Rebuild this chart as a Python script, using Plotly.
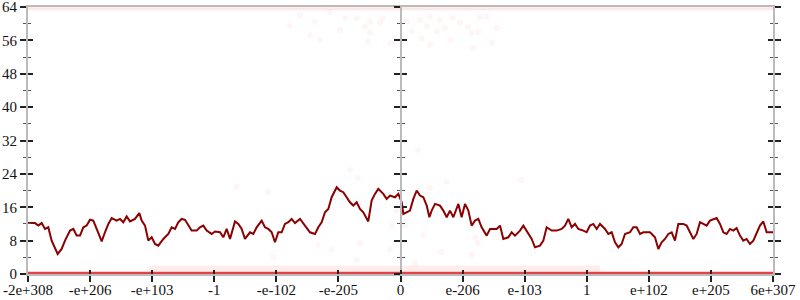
import plotly.graph_objects as go

# ---- data ----
tick_pos = [0, 100, 200, 300, 400, 500, 600, 700, 800, 900, 1000, 1100, 1200]
tick_labels = ["-2e+308", "-e+206", "-e+103", "-1", "-e-102", "-e-205", "0",
               "e-206", "e-103", "1", "e+102", "e+205", "6e+307"]
y_ticks = [0, 8, 16, 24, 32, 40, 48, 56, 64]
y_minor = [4, 12, 20, 28, 36, 44, 52, 60]

line_x = [0, 11.3, 16.6, 22, 27.4, 32.7, 38.1, 43.5, 47.8, 54.2, 59.6, 67.7, 73.1, 78.4, 83.8,
          89.1, 94.5, 99.9, 105.2, 110.6, 118.7, 124, 129.4, 134.8, 142.8, 148.2, 153.5, 158.9,
          164.3, 172.3, 179.3, 183.1, 188.5, 193.8, 199.2, 204.6, 209.9, 218, 226, 231.4, 236.8,
          242.1, 247.5, 252.9, 258.2, 263.6, 271.7, 277, 282.4, 287.8, 295.8, 301.2, 309.3, 314.6,
          320, 325.4, 333.4, 338.8, 344.2, 349.5, 357.6, 362.9, 368.3, 376.4, 381.7, 387.1, 392.5,
          397.8, 403.2, 408.6, 413.9, 419.3, 424.7, 430, 438.1, 446.2, 454.2, 462.3, 467.6, 473,
          478.4, 483.7, 489.1, 497.2, 502.5, 507.9, 513.3, 518.6, 524, 529.4, 534.7, 540.1, 548.1,
          553.5, 558.9, 564.2, 572.3, 577.7, 583.1, 591.2, 596.5, 601.9, 604.6, 610, 615.3, 620.7,
          626.1, 631.4, 636.8, 642.2, 646.5, 650.2, 655.6, 663.6, 669, 674.4, 679.7, 685.1, 693.2,
          698.5, 703.9, 709.3, 714.6, 720, 725.4, 730.7, 738.8, 744.2, 754.9, 760.3, 765.6, 773.7,
          779.1, 784.4, 792.5, 797.9, 803.2, 811.3, 816.6, 824.7, 830.1, 835.4, 843.5, 851.5, 859.6,
          865, 870.3, 875.7, 881.1, 886.4, 894.5, 899.9, 905.2, 910.6, 916, 921.3, 929.4, 934.8,
          940.1, 945.5, 950.9, 956.2, 961.6, 969.7, 975, 980.4, 985.8, 991.1, 1001.9, 1009.9,
          1015.3, 1020.7, 1026, 1031.4, 1036.8, 1042.1, 1047.5, 1055.6, 1060.9, 1066.3, 1071.7,
          1077, 1082.4, 1087.8, 1093.1, 1098.5, 1103.9, 1109.2, 1114.6, 1120, 1125.3, 1130.7,
          1136.1, 1141.4, 1146.8, 1152.2, 1157.5, 1162.9, 1168.3, 1173.6, 1179, 1184.4, 1189.8, 1200]
line_y = [12.2, 12.2, 11.6, 12.2, 10.8, 11.2, 8, 6.4, 4.8, 6, 8, 10.4, 10.8, 9.2, 9.2,
          11.2, 11.6, 13, 12.8, 10.8, 7.8, 10, 12, 13.4, 12.8, 13.2, 12.4, 13.8,
          12.6, 13.2, 14.6, 12.8, 11.6, 8, 8.8, 7.2, 6.8, 8.4, 9.6, 11.2, 10.8,
          12.4, 13.2, 13, 11.6, 10.4, 10.4, 11.2, 11.6, 10.4, 9.6, 10.2, 10, 8.8,
          10.8, 8.4, 12.6, 12, 10.8, 8.4, 10, 9.6, 11.2, 12.8, 11.2, 10.8, 10,
          7.6, 10, 10, 12, 12.4, 13.2, 12.2, 13.2, 11.6, 10, 9.6, 11.2, 12.4,
          14.8, 15.6, 18.4, 20.8, 20, 19.6, 18.4, 17.2, 16.4, 17.2, 15.6, 14.8, 12.6,
          17.6, 19.2, 20.4, 19.2, 18, 18.8, 18.4, 19.2, 17.2, 14.4, 14.8, 15.2, 18,
          20, 18.8, 18.4, 16.4, 13.6, 15.2, 16.8, 16.4, 15.2, 13.6, 15.2, 13.6, 16.8,
          13.6, 16.8, 15.2, 11.6, 12.8, 13.2, 11.2, 9.2, 10.8, 10.8, 11.6, 8.4, 8.8,
          10, 9.2, 10.4, 11.6, 10.4, 8.4, 6.4, 6.8, 8, 11.2, 10.4, 10.4, 10.8,
          11.6, 13.2, 11.2, 12, 10.8, 10.4, 10, 11.6, 12, 10.8, 12, 10.8, 9.6,
          10, 7.6, 6.4, 7.2, 9.6, 10, 11.2, 11.2, 9.6, 10, 10, 8.8,
          6, 7.6, 8.4, 9.6, 10, 8, 12, 12, 11.6, 10, 8.4,
          9.6, 12.4, 12, 11.6, 12.8, 13.2, 13.4, 12, 10, 9.6, 10.8,
          10.4, 11, 9.2, 8, 8.4, 7.2, 8, 9.6, 11.6, 12.6, 10, 10]

# dense point clouds (drawn as bands): [start, end] along x and their level
bottom_band_x = [0, 1200]
bottom_band_y = [0.2, 0.2]
bottom_fuzz_x = [196, 921]
bottom_fuzz_y = [1.3, 1.3]
top_band_x = [0, 1200]
top_band_y = [63.6, 63.6]

# sparse points
pts_x = [529.4, 550.9, 542.8, 567, 571.8, 550.9, 547.6, 583.1, 610, 618, 631.4, 634.1, 642.2,
         647.5, 647.5, 658.3, 663.6, 671.7, 679.7, 684.5, 695.8, 708.7, 714.7, 716.8, 724.8,
         728, 738.8, 746.9, 754.9, 438, 462, 486.4, 502.5, 470.3, 510.6, 422, 454,
         336.2, 386.6, 518.6, 531.5, 467.1, 489.2, 534.7, 529.4, 583.1, 585.8, 593.9, 394.6,
         674.4, 795.2, 647.5, 607.2, 636.2, 720, 724.8, 628.2, 835.5, 666.3, 623.3, 714.7]
pts_y = [61.3, 60.5, 59.3, 60.2, 61.4, 57.8, 55.7, 55.4, 60.5, 58.1, 60.9, 56.3, 59.3,
         61.7, 54.9, 58.1, 60.9, 59, 56.1, 61.4, 60.2, 59.2, 57.8, 54.2, 58,
         61.6, 61.7, 55.4, 59, 62, 60.4, 62.8, 58.5, 56.1, 61.4, 59.7, 57.3,
         20.9, 19.7, 24.9, 23, 7, 5.8, 7.4, 3.4, 5.8, 11.7, 15.3, 4.1,
         22.1, 22.5, 20.6, 11.7, 9.3, 8.6, 7.4, 29.7, 12.5, 5.3, 2.6, 4.6]

FONT = dict(family="Liberation Serif", size=15, color="#111")
TICKC = "#222"
MINC = "#555"
AXC = "#bbbbbb"

fig = go.Figure()
fig.add_trace(go.Scatter(x=top_band_x, y=top_band_y, mode="lines",
                         line=dict(color="rgba(235,60,60,0.12)", width=3), hoverinfo="skip"))
fig.add_trace(go.Scatter(x=bottom_fuzz_x, y=bottom_fuzz_y, mode="lines",
                         line=dict(color="rgba(235,60,60,0.09)", width=6), hoverinfo="skip"))
fig.add_trace(go.Scatter(x=pts_x, y=pts_y, mode="markers",
                         marker=dict(color="rgba(235,50,50,0.05)", size=6), hoverinfo="skip"))
fig.add_trace(go.Scatter(x=bottom_band_x, y=bottom_band_y, mode="lines",
                         line=dict(color="rgba(225,30,40,0.85)", width=3), hoverinfo="skip"))
fig.add_trace(go.Scatter(x=line_x, y=line_y, mode="lines",
                         line=dict(color="#8b0000", width=2)))
# empty traces to register overlay axes
fig.add_trace(go.Scatter(x=[None], y=[None], xaxis="x2", yaxis="y"))
for ya in ["y2", "y3", "y4"]:
    fig.add_trace(go.Scatter(x=[None], y=[None], xaxis="x", yaxis=ya))

minor_out = dict(tickvals=y_minor, ticks="outside", ticklen=3, tickcolor=MINC, tickwidth=1)
minor_in = dict(tickvals=y_minor, ticks="inside", ticklen=3, tickcolor=MINC, tickwidth=1)

fig.update_layout(
    width=800, height=300,
    margin=dict(l=28, r=27, t=7, b=26, autoexpand=False),
    paper_bgcolor="white", plot_bgcolor="white",
    showlegend=False,
    xaxis=dict(range=[0, 1200], tickvals=tick_pos, ticktext=tick_labels,
               ticks="outside", ticklen=6, tickwidth=1.5, tickcolor=TICKC,
               showline=True, linecolor=AXC, linewidth=2, mirror=True, automargin=False,
               ticklabeloverflow="allow", ticklabelstandoff=-5,
               showgrid=False, zeroline=False, tickfont=FONT, layer="below traces"),
    xaxis2=dict(overlaying="x", anchor="y", range=[0, 1200], tickvals=tick_pos,
                ticks="inside", ticklen=4, tickwidth=1.5, tickcolor=TICKC, automargin=False,
                showticklabels=False, showline=False, showgrid=False, zeroline=False),
    yaxis=dict(range=[0, 64], tickvals=y_ticks, ticks="outside", ticklen=6, tickwidth=1.5,
               tickcolor=TICKC, minor=minor_out, showline=True, linecolor=AXC, linewidth=2,
               mirror="ticks", showgrid=False, zeroline=False, tickfont=FONT, automargin=False,
               ticklabeloverflow="allow"),
    yaxis2=dict(overlaying="y", anchor="x", range=[0, 64], tickvals=y_ticks, ticks="inside",
                ticklen=5, tickwidth=1.5, tickcolor=TICKC, minor=minor_in, mirror="ticks",
                showline=False, showticklabels=False, showgrid=False, zeroline=False,
                automargin=False),
    yaxis3=dict(overlaying="y", anchor="free", position=0.5, range=[0, 64], tickvals=y_ticks,
                ticks="outside", ticklen=6, tickwidth=1.5, tickcolor=TICKC, minor=minor_out,
                showline=True, linecolor=AXC, linewidth=2, showticklabels=False,
                showgrid=False, zeroline=False, automargin=False),
    yaxis4=dict(overlaying="y", anchor="free", position=0.5, range=[0, 64], tickvals=y_ticks,
                ticks="inside", ticklen=5, tickwidth=1.5, tickcolor=TICKC, minor=minor_in,
                showline=False, showticklabels=False, showgrid=False, zeroline=False,
                automargin=False),
)

fig.write_html("out.html")
